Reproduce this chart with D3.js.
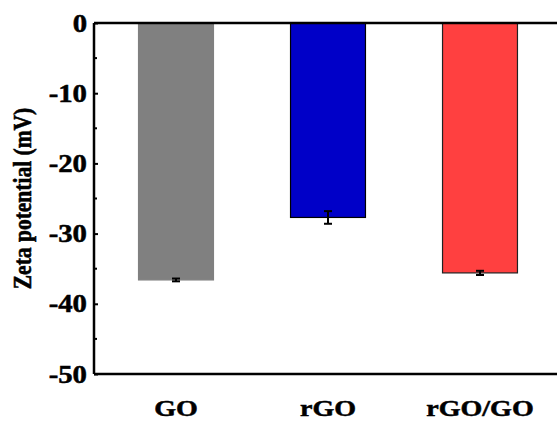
<!DOCTYPE html>
<html>
<head>
<meta charset="utf-8">
<script src="https://cdn.jsdelivr.net/npm/d3@7"></script>
<style>
  body { margin: 0; background: #fff; }
  svg text { font-family: "Liberation Serif", Times, serif; font-weight: 700; fill: #000; stroke: #000; stroke-width: 0.5px; }
</style>
</head>
<body>
<div id="graph"></div>
<script>
// data
const categories = ["GO", "rGO", "rGO/GO"];
const zeta = [-36.6, -27.7, -35.6];
const zetaErr = [0.2, 0.9, 0.3];
const barColors = ["#808080", "#0000c8", "#ff4040"];
const barEdges = ["#808080", "#000000", "#222222"];
const yTicks = [0, -10, -20, -30, -40, -50];

const width = 557;
const height = 430;
const marginTop = 23;
const marginBottom = 56;
const marginLeft = 94;

const svg = d3.create("svg")
    .attr("width", width)
    .attr("height", height);

const x = d3.scaleBand()
    .domain(categories)
    .range([100, 556])
    .paddingInner(0.507)
    .paddingOuter(0.2535);

const y = d3.scaleLinear()
    .domain([-50, 0])
    .range([height - marginBottom, marginTop]);

// bars hang down from 0
svg.append("g")
    .selectAll("rect")
    .data(categories)
    .join("rect")
    .attr("x", d => x(d))
    .attr("width", x.bandwidth())
    .attr("y", y(0))
    .attr("height", (d, i) => y(zeta[i]) - y(0))
    .attr("fill", (d, i) => barColors[i])
    .attr("stroke", (d, i) => barEdges[i])
    .attr("stroke-width", 1.2);

// error bars
const err = svg.append("g").attr("stroke", "#000").attr("stroke-width", 2);
categories.forEach((c, i) => {
    const cx = x(c) + x.bandwidth() / 2;
    const lo = y(zeta[i] - zetaErr[i]);
    const hi = y(zeta[i] + zetaErr[i]);
    err.append("line").attr("x1", cx).attr("x2", cx).attr("y1", hi).attr("y2", lo);
    err.append("line").attr("x1", cx - 4).attr("x2", cx + 4).attr("y1", hi).attr("y2", hi);
    err.append("line").attr("x1", cx - 4).attr("x2", cx + 4).attr("y1", lo).attr("y2", lo);
});

// y axis ticks pointing inward
const yAxis = svg.append("g")
    .attr("transform", `translate(${marginLeft},0)`)
    .call(d3.axisRight(y).tickValues(yTicks).tickSize(4).tickFormat(""));
yAxis.select(".domain").remove();
yAxis.selectAll("line").attr("stroke-width", 2);

// minor ticks
svg.append("g")
    .selectAll("line")
    .data(d3.range(-45, 0, 10))
    .join("line")
    .attr("x1", marginLeft).attr("x2", marginLeft + 3)
    .attr("y1", d => y(d)).attr("y2", d => y(d))
    .attr("stroke", "#000").attr("stroke-width", 2);

// tick labels (the original looks slightly stretched sideways)
svg.append("g")
    .selectAll("text")
    .data(yTicks)
    .join("text")
    .attr("transform", d => `translate(${marginLeft - 7},${y(d)}) scale(1.15,1)`)
    .attr("dy", "0.34em")
    .attr("text-anchor", "end")
    .style("font-size", "25px")
    .text(d => d);

// frame lines: left, top, bottom
const frame = svg.append("g").attr("stroke", "#000").attr("stroke-width", 2.5).attr("fill", "none");
frame.append("line").attr("x1", marginLeft).attr("x2", marginLeft).attr("y1", y(0)).attr("y2", y(-50));
frame.append("line").attr("x1", marginLeft).attr("x2", width).attr("y1", y(0)).attr("y2", y(0));
frame.append("line").attr("x1", marginLeft).attr("x2", width).attr("y1", y(-50)).attr("y2", y(-50));

// category labels
svg.append("g")
    .selectAll("text")
    .data(categories)
    .join("text")
    .attr("transform", d => `translate(${x(d) + x.bandwidth() / 2},416) scale(1.22,1)`)
    .attr("text-anchor", "middle")
    .style("font-size", "23px")
    .text(d => d);

// y axis title
svg.append("text")
    .attr("transform", `translate(22,${(y(0) + y(-50)) / 2}) rotate(-90) scale(1,1.15)`)
    .attr("dy", "0.35em")
    .attr("text-anchor", "middle")
    .style("font-size", "21.5px")
    .text("Zeta potential (mV)");

document.getElementById("graph").appendChild(svg.node());
</script>
</body>
</html>
